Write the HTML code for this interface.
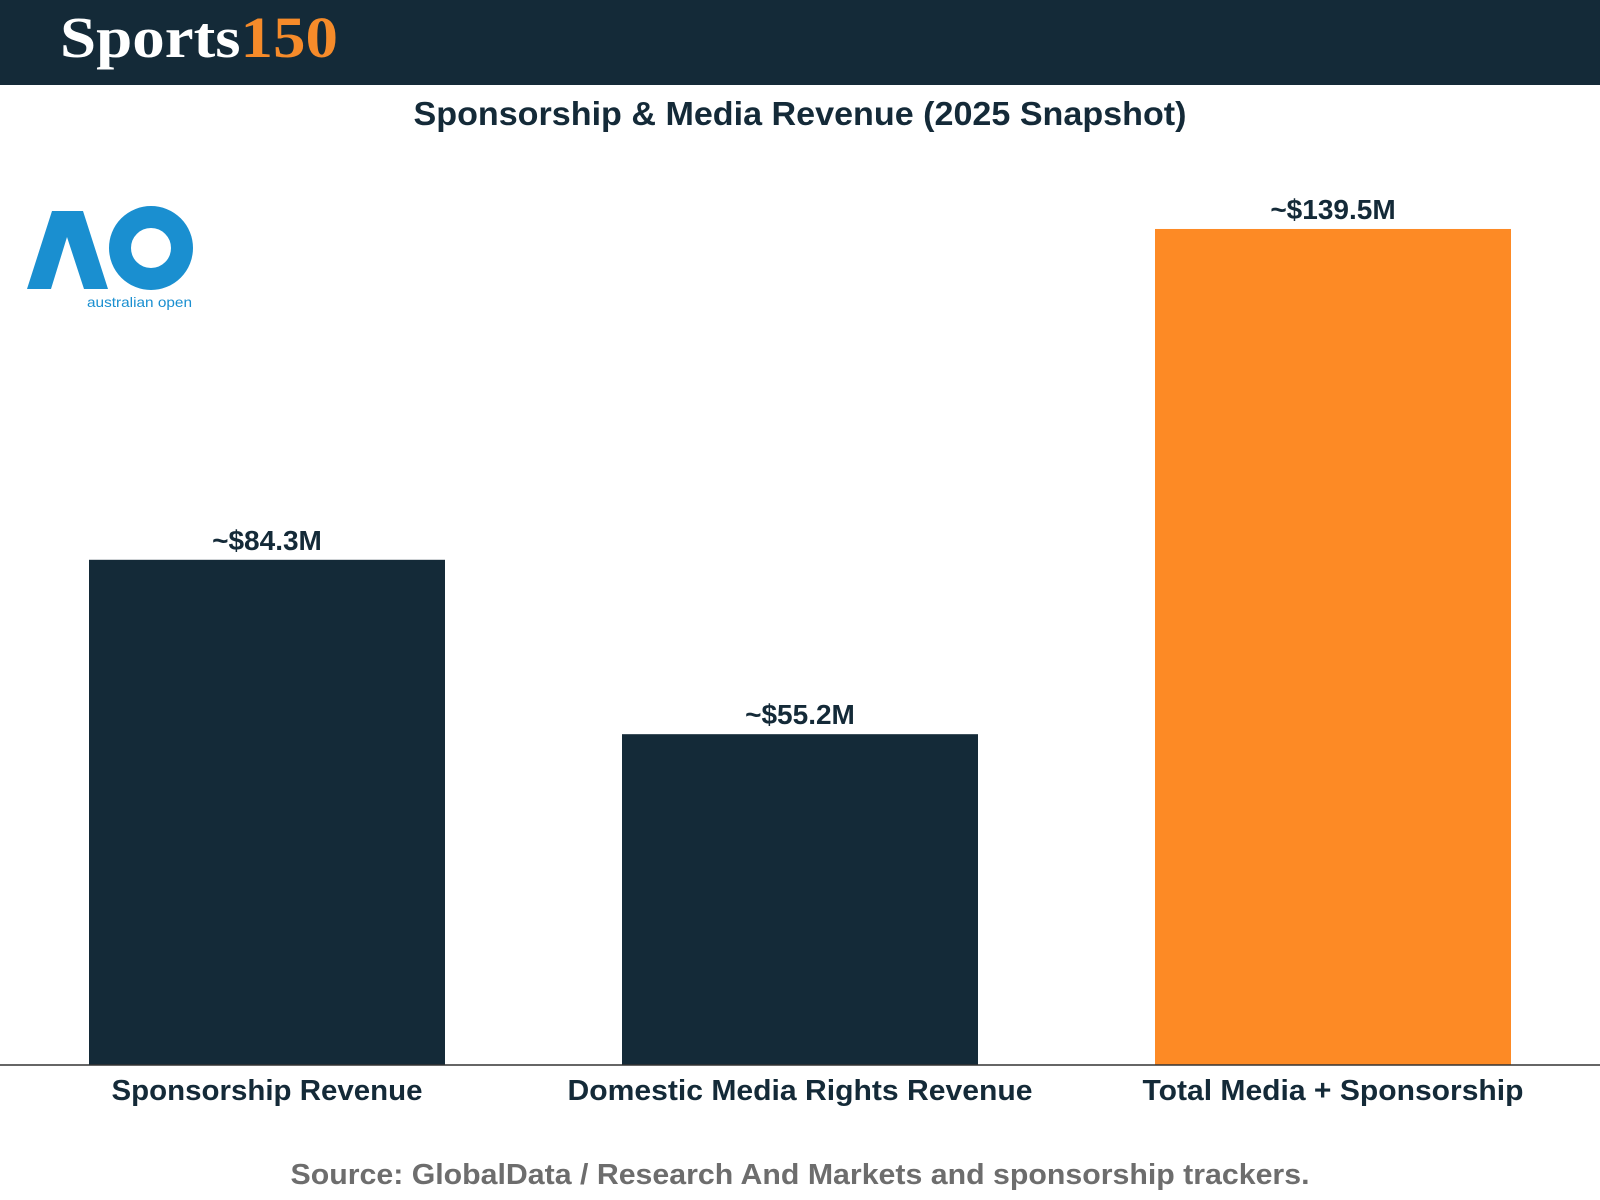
<!DOCTYPE html>
<html><head><meta charset="utf-8"><style>
html,body{margin:0;padding:0;background:#fff;}
svg{display:block;}
</style></head><body>
<svg id="chart" width="1600" height="1200" viewBox="0 0 1600 1200" xmlns="http://www.w3.org/2000/svg">
  <rect x="0" y="0" width="1600" height="85" fill="#142a38"/>
  <text x="60" y="57" font-family="Liberation Serif, serif" font-weight="bold" font-size="58" textLength="278" lengthAdjust="spacingAndGlyphs"><tspan fill="#ffffff">Sports</tspan><tspan fill="#f68b2a">150</tspan></text>
  <text x="800" y="125" text-anchor="middle" font-family="Liberation Sans, sans-serif" font-weight="bold" font-size="33" fill="#142a38" textLength="773" lengthAdjust="spacingAndGlyphs">Sponsorship &amp; Media Revenue (2025 Snapshot)</text>
  <g>
    <polygon points="27,289 52,211 83,211 108,289 84,289 67,237 51,289" fill="#1a8fd0"/>
    <circle cx="151" cy="248" r="31" fill="none" stroke="#1a8fd0" stroke-width="22"/>
    <text x="87" y="307" font-family="Liberation Sans, sans-serif" font-size="14" fill="#1a8fd0" textLength="105" lengthAdjust="spacingAndGlyphs">australian open</text>
  </g>
  <g id="bars"></g>
  <line x1="0" y1="1065" x2="1600" y2="1065" stroke="#333" stroke-width="1.5"/>
  <text x="800" y="1184" text-anchor="middle" font-family="Liberation Sans, sans-serif" font-weight="bold" font-size="29" fill="#6d6d6d" textLength="1019" lengthAdjust="spacingAndGlyphs">Source: GlobalData / Research And Markets and sponsorship trackers.</text>
</svg>
<script>
const categories = ["Sponsorship Revenue", "Domestic Media Rights Revenue", "Total Media + Sponsorship"];
const values = [84.3, 55.2, 139.5];
const valueLabels = ["~$84.3M", "~$55.2M", "~$139.5M"];
const highlight = [false, false, true];

const NS = "http://www.w3.org/2000/svg";
const baseY = 1065, pxPerUnit = 5.993;
const yScale = v => baseY - v * pxPerUnit;
const firstX = 89, step = 533, barW = 356;
const xScale = i => firstX + i * step;
const labelLens = [311, 465, 381];
const g = document.getElementById("bars");
categories.forEach((c, i) => {
  const x = xScale(i), y = yScale(values[i]);
  const r = document.createElementNS(NS, "rect");
  r.setAttribute("x", x); r.setAttribute("y", y);
  r.setAttribute("width", barW); r.setAttribute("height", baseY - y);
  r.setAttribute("fill", highlight[i] ? "#fd8a25" : "#142a38");
  
  
  g.appendChild(r);
  const t = document.createElementNS(NS, "text");
  t.setAttribute("x", x + barW / 2); t.setAttribute("y", y - 10);
  t.setAttribute("text-anchor", "middle");
  t.setAttribute("font-family", "Liberation Sans, sans-serif");
  t.setAttribute("font-weight", "bold"); t.setAttribute("font-size", "28");
  t.setAttribute("fill", "#142a38");
  t.textContent = valueLabels[i];
  
  
  g.appendChild(t);
  const l = document.createElementNS(NS, "text");
  l.setAttribute("x", x + barW / 2); l.setAttribute("y", 1100);
  l.setAttribute("text-anchor", "middle");
  l.setAttribute("font-family", "Liberation Sans, sans-serif");
  l.setAttribute("font-weight", "bold"); l.setAttribute("font-size", "29");
  l.setAttribute("fill", "#142a38");
  l.setAttribute("textLength", labelLens[i]);
  l.setAttribute("lengthAdjust", "spacingAndGlyphs");
  l.textContent = c;
  
  
  g.appendChild(l);
});
</script>
</body></html>
